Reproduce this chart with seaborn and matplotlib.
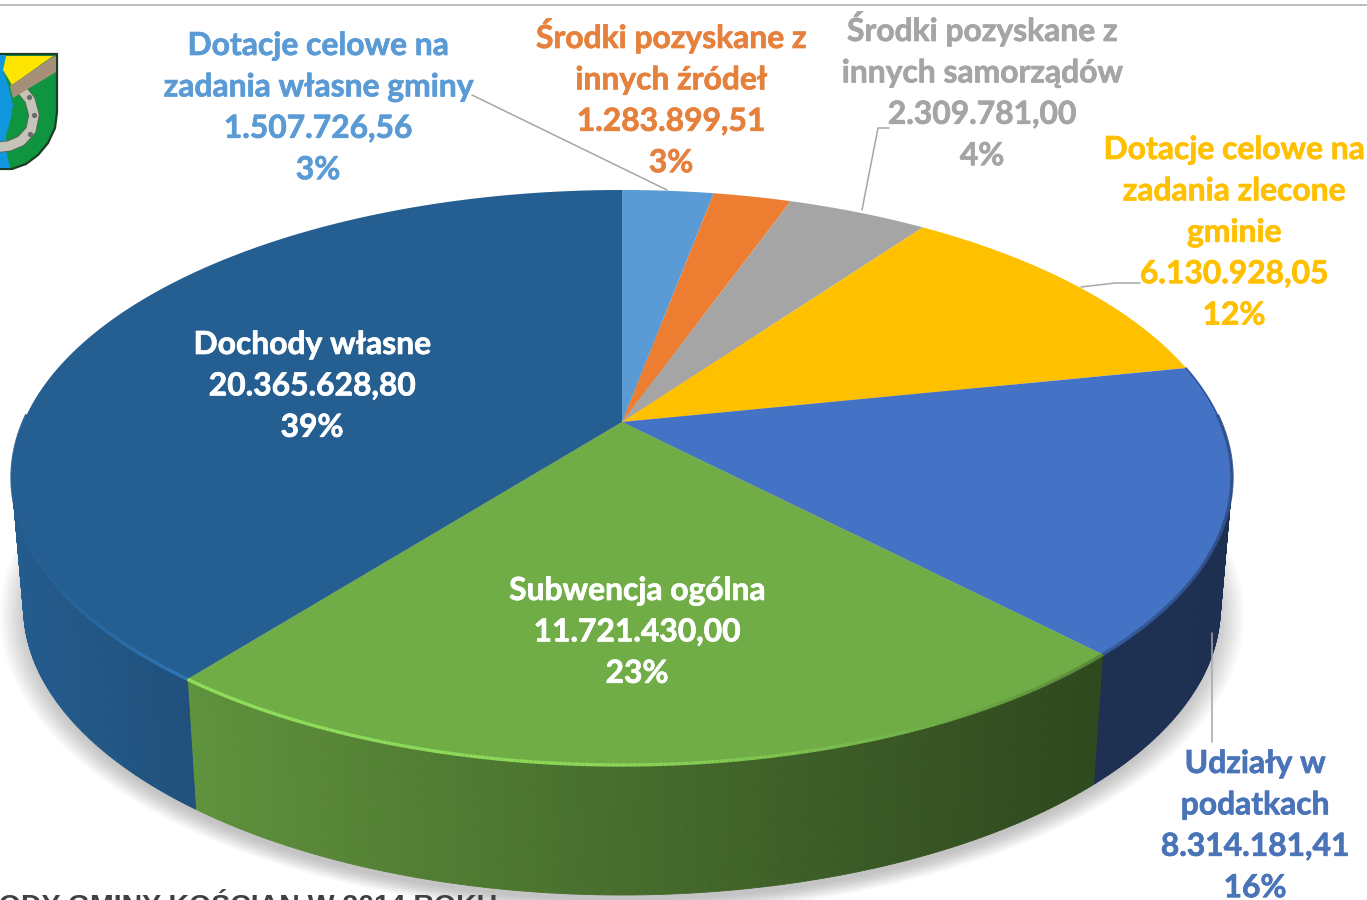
"""Dochody gminy Kościan - tilted 3D style pie chart"""

import matplotlib
matplotlib.use('Agg')
import matplotlib.pyplot as plt
import matplotlib.patheffects as pe
import seaborn as sns
import numpy as np
from matplotlib.collections import LineCollection, PolyCollection
from matplotlib.path import Path
from matplotlib.transforms import Affine2D, Transform

# data, clockwise from 12 o'clock
names = [
    ['Dotacje celowe na', 'zadania własne gminy'],
    ['Środki pozyskane z', 'innych źródeł'],
    ['Środki pozyskane z', 'innych samorządów'],
    ['Dotacje celowe na', 'zadania zlecone', 'gminie'],
    ['Udziały w', 'podatkach'],
    ['Subwencja ogólna'],
    ['Dochody własne'],
]
values = [1507726.56, 1283899.51, 2309781.00, 6130928.05, 8314181.41, 11721430.00, 20365628.80]
percents = ['3%', '3%', '4%', '12%', '16%', '23%', '39%']
slice_colors = ['#5b9bd5', '#ed7d31', '#a5a5a5', '#ffc000', '#4472c4', '#70ad47', '#255e91']
heading = 'DOCHODY GMINY KOŚCIAN W 2014 ROKU'

# label anchors: centre x, baseline y of first line
label_pos = [(318, 55), (671, 48), (982, 41), (1234, 159), (1255, 773), (637, 600), (312, 354)]
label_colors = ['#5b9bd5', '#e5813d', '#a5a5a5', '#ffc000', '#4a74b8', 'white', 'white']
LINE_H = 41.4

# projection of the unit circle to the picture
CX, CY, A, B, K = 622, 422, 598.5, 276.8, 0.193
DEPTH, SHRINK = 130, 0.981


class Tilt(Transform):
    input_dims = 2
    output_dims = 2
    is_affine = False
    has_inverse = False

    def transform_non_affine(self, v):
        v = np.asarray(v, dtype=float)
        w = 1 + K * v[:, 1]
        return np.column_stack([CX + A * v[:, 0] / w, CY - B * v[:, 1] / w])

    def transform_path_non_affine(self, path):
        # flatten the arcs first, the projection does not keep beziers
        poly = path.transformed(Affine2D().scale(2000)).to_polygons(closed_only=True)[0] / 2000
        return Path(self.transform_non_affine(poly))


def rim(theta, lower=False):
    t = np.radians(theta)
    p = Tilt().transform_non_affine(np.column_stack([np.cos(t), np.sin(t)]))
    if lower:
        p[:, 0] = CX + SHRINK * (p[:, 0] - CX)
        p[:, 1] += DEPTH
    return p


def shade(color, f):
    return tuple(np.clip(np.array(color[:3]) * f, 0, 1))


def pl_number(v):
    return f'{v:,.2f}'.replace(',', ' ').replace('.', ',').replace(' ', '.')


sns.set_theme(style='white')
plt.rcParams['font.family'] = ['Lato', 'DejaVu Sans']
palette = sns.color_palette(slice_colors)

fig = plt.figure(figsize=(13.67, 9), dpi=100)
ax = fig.add_axes([0, 0, 1, 1])

wedges, _ = ax.pie(values, colors=palette, startangle=90, counterclock=False, radius=1)
ax.set_aspect('auto')
ax.set_xlim(0, 1367)
ax.set_ylim(900, 0)
ax.axis('off')

tilt = Tilt() + ax.transData
for w in wedges:
    w.set_transform(tilt)
    w.set_zorder(5)
    w.set_edgecolor('none')

# soft shadow under the cake
all_t = np.linspace(0, 360, 241)
low = rim(all_t, lower=True)
for grow in np.linspace(1.04, 0.99, 22):
    pts = np.column_stack([CX + (low[:, 0] - CX) * grow, 618 + (low[:, 1] - 610) * grow])
    ax.fill(pts[:, 0], pts[:, 1], color='#555555', alpha=0.016, lw=0, zorder=1)

# side wall and lit edge of the top face
for w, col in zip(wedges, palette):
    th = np.linspace(w.theta1, w.theta2, max(int(w.theta2 - w.theta1) * 3, 4))
    th = th[np.sin(np.radians(th)) < 0.03]
    if len(th) < 2:
        continue
    up, dn = rim(th), rim(th, lower=True)
    quads = [[up[i], up[i + 1], dn[i + 1], dn[i]] for i in range(len(th) - 1)]
    xm = up[:-1, 0]
    f = np.interp(xm, [12, 200, 520, 800, 1090, 1232], [0.98, 0.84, 0.68, 0.55, 0.42, 0.42])
    cols = [shade(col, x) for x in f]
    ax.add_collection(PolyCollection(quads, facecolors=cols, edgecolors=cols, linewidths=0.6, zorder=3))

    segs = [[up[i], up[i + 1]] for i in range(len(th) - 1)]
    g = np.interp(xm, [12, 60, 200, 600, 900, 1100, 1232], [1.0, 1.05, 1.3, 1.25, 1.05, 0.8, 0.7])
    ax.add_collection(LineCollection(segs, colors=[shade(col, x) for x in g], linewidths=2.4, zorder=6))

# thin dark edge on the far right side of the top face
th = np.linspace(0, wedges[4].theta2 % 360, 60)
up = rim(th)
ax.plot(up[:, 0], up[:, 1], color='#2f5597', lw=1.2, zorder=6)

# leader lines
leaders = [
    ([472, 667], [95, 190]),
    ([889, 878, 862], [128, 128, 210]),
    ([1140, 1115, 1081], [283, 283, 287]),
    ([1212, 1212], [633, 742]),
]
for lx, ly in leaders:
    ax.plot(lx, ly, color='#a6a6a6', lw=1.1, zorder=4)

# labels
for name, v, pct, (x, y), c in zip(names, values, percents, label_pos, label_colors):
    lines = name + [pl_number(v), pct]
    for i, line in enumerate(lines):
        ax.text(x, y + i * LINE_H, line, ha='center', va='baseline', color=c,
                fontsize=22.9, fontweight='bold', zorder=8,
                path_effects=[pe.withStroke(linewidth=0.5, foreground=c)])

# top rule and cut off heading
ax.plot([0, 1367], [5, 5], color='#bdbdbd', lw=1.4, zorder=2)
ax.text(497, 914, heading, ha='right', va='baseline', color='#404040', fontsize=20.5,
        fontweight='bold', family='Liberation Sans', zorder=8)

# coat of arms
sx = [0, 57, 57, 55, 48, 38, 26, 12, 0]
sy = [54, 54, 112, 128, 143, 155, 164, 169, 169]
ax.fill(sx, sy, color='#0f9440', ec='#1d3b25', lw=1.6, zorder=7)
ax.fill([0, 6, 3, 8, 13, 10, 6, 6, 10, 0], [55, 55, 70, 85, 105, 122, 135, 150, 168, 168],
        color='#1196e0', lw=0, zorder=7)
shoe_x = [22, 30, 34, 31, 21, 9, 0]
shoe_y = [90, 100, 115, 130, 141, 146, 147]
ax.plot(shoe_x, shoe_y, color='#5f5f5f', lw=8, solid_capstyle='round', zorder=7)
ax.plot(shoe_x, shoe_y, color='#c4c4b8', lw=6.8, solid_capstyle='round', zorder=7)
ax.scatter([29, 34, 30], [97, 115, 134], s=14, color='#6a6a6a', lw=0, zorder=7)
ax.fill([6, 53, 12, 3], [56, 56, 85, 70], color='#ffe600', lw=0, zorder=7)
ax.fill([54, 56, 56, 13, 10], [56, 57, 72, 98, 86], color='#a58f76', lw=0, zorder=7)

fig.savefig('out.png', dpi=100)
